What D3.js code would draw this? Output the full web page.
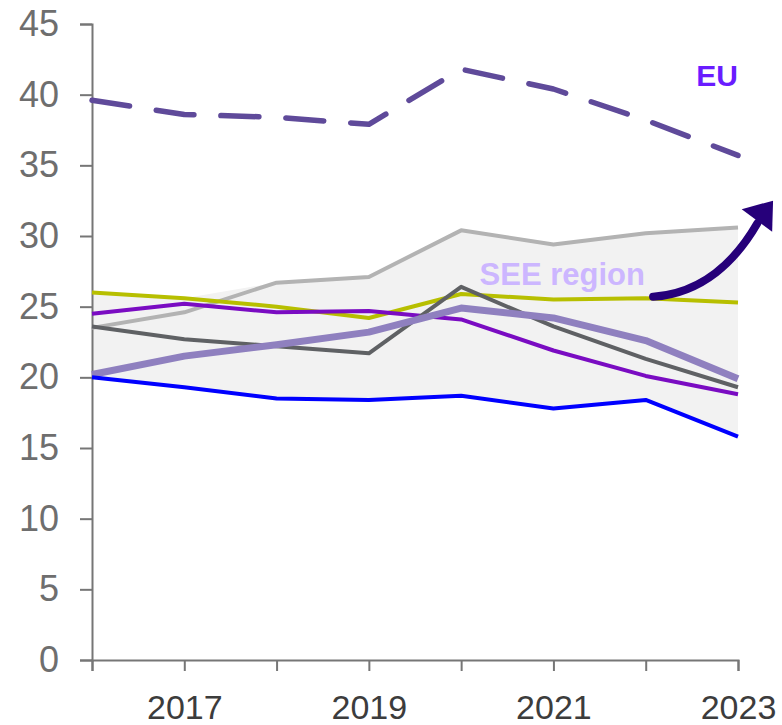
<!DOCTYPE html>
<html>
<head>
<meta charset="utf-8">
<script src="https://cdn.jsdelivr.net/npm/d3@7"></script>
<style>
  html, body { margin: 0; padding: 0; background: #fff; }
  svg { display: block; font-family: "Liberation Sans", Arial, sans-serif; }
</style>
</head>
<body>
<svg id="chart" width="782" height="725"></svg>
<script>
// ---- data ----
const years = [2016, 2017, 2018, 2019, 2020, 2021, 2022, 2023];
const xTickLabels = [2017, 2019, 2021, 2023];
const yTicks = [0, 5, 10, 15, 20, 25, 30, 35, 40, 45];

const eu        = [39.6, 38.6, 38.4, 37.9, 41.8, 40.4, 38.2, 35.7];
const lightGrey = [23.5, 24.6, 26.7, 27.1, 30.4, 29.4, 30.2, 30.6];
const yellow    = [26.0, 25.6, 25.0, 24.2, 25.9, 25.5, 25.6, 25.3];
const purple    = [24.5, 25.2, 24.6, 24.7, 24.1, 21.9, 20.1, 18.8];
const darkGrey  = [23.6, 22.7, 22.2, 21.7, 26.4, 23.6, 21.3, 19.3];
const seeAvg    = [20.2, 21.5, 22.3, 23.2, 24.9, 24.2, 22.6, 19.9];
const blue      = [20.0, 19.3, 18.5, 18.4, 18.7, 17.8, 18.4, 15.8];

// ---- layout ----
const svg = d3.select("#chart");
const x = d3.scaleLinear().domain([2016, 2023]).range([92, 738]);
const y = d3.scaleLinear().domain([0, 45]).range([660, 24]);

const countries = [lightGrey, yellow, purple, darkGrey, blue];

// envelope band
const band = years.map((yr, i) => ({
  yr,
  lo: d3.min(countries, s => s[i]),
  hi: d3.max(countries, s => s[i])
}));
svg.append("path")
  .datum(band)
  .attr("fill", "#f2f2f2")
  .attr("d", d3.area().x(d => x(d.yr)).y0(d => y(d.lo)).y1(d => y(d.hi)));

// axes
const yAxis = d3.axisLeft(y).tickValues(yTicks).tickSize(12).tickPadding(21).tickFormat(d3.format("d"));
const gy = svg.append("g").attr("transform", "translate(92,0)").call(yAxis);
gy.select(".domain").attr("stroke", "#767676").attr("stroke-width", 2);
gy.selectAll(".tick line").attr("stroke", "#767676").attr("stroke-width", 2);
gy.selectAll(".tick text").attr("fill", "#6e6e6e").style("font-size", "36px");

const xAxis = d3.axisBottom(x).tickValues(years).tickSize(11).tickPadding(24)
  .tickFormat(d => xTickLabels.includes(d) ? String(d) : "");
const gx = svg.append("g").attr("transform", "translate(0,660)").call(xAxis);
gx.select(".domain").attr("stroke", "#767676").attr("stroke-width", 2);
gx.selectAll(".tick line").attr("stroke", "#767676").attr("stroke-width", 2);
gx.selectAll(".tick text").attr("fill", "#3c3c3c").style("font-size", "34px");

// lines
const line = d3.line().x((d, i) => x(years[i])).y(d => y(d));
const series = [
  { data: lightGrey, color: "#b3b3b3", w: 4 },
  { data: yellow,    color: "#b7bf00", w: 4 },
  { data: purple,    color: "#7a0cc2", w: 4 },
  { data: darkGrey,  color: "#5f6164", w: 4 },
  { data: seeAvg,    color: "#8f80bf", w: 7 },
  { data: blue,      color: "#0000ff", w: 4 }
];
series.forEach(s => {
  svg.append("path").datum(s.data)
    .attr("fill", "none").attr("stroke", s.color).attr("stroke-width", s.w)
    .attr("stroke-linejoin", "round")
    .attr("d", line);
});

// EU dashed
svg.append("path").datum(eu)
  .attr("fill", "none").attr("stroke", "#5f4a9a").attr("stroke-width", 5.5)
  .attr("stroke-dasharray", "38,27").attr("stroke-linecap", "round")
  .attr("stroke-linejoin", "round")
  .attr("d", line);

// labels
svg.append("text").attr("x", x(2023)).attr("y", y(40.6))
  .attr("text-anchor", "end").attr("fill", "#6a1cff")
  .style("font-size", "30px").style("font-weight", "bold").text("EU");
svg.append("text").attr("x", x(2020.2)).attr("y", y(26.5))
  .attr("text-anchor", "start").attr("fill", "#ccb6ff")
  .style("font-size", "31px").style("font-weight", "bold").text("SEE region");

// arrow annotation (data coordinates)
const arrowPts = [[2022.08, 25.7], [2022.62, 25.95], [2022.98, 28.3], [2023.21, 30.9]];
const p = arrowPts.map(d => [x(d[0]), y(d[1])]);
svg.append("path")
  .attr("d", `M${p[0][0]},${p[0][1]} C${p[1][0]},${p[1][1]} ${p[2][0]},${p[2][1]} ${p[3][0]},${p[3][1]}`)
  .attr("fill", "none").attr("stroke", "#26007a").attr("stroke-width", 8).attr("stroke-linecap", "round");
const head = [[2023.38, 32.5], [2023.04, 31.9], [2023.37, 30.3]];
svg.append("path")
  .attr("d", "M" + head.map(d => [x(d[0]), y(d[1])].join(",")).join("L") + "Z")
  .attr("fill", "#26007a");
</script>
</body>
</html>
